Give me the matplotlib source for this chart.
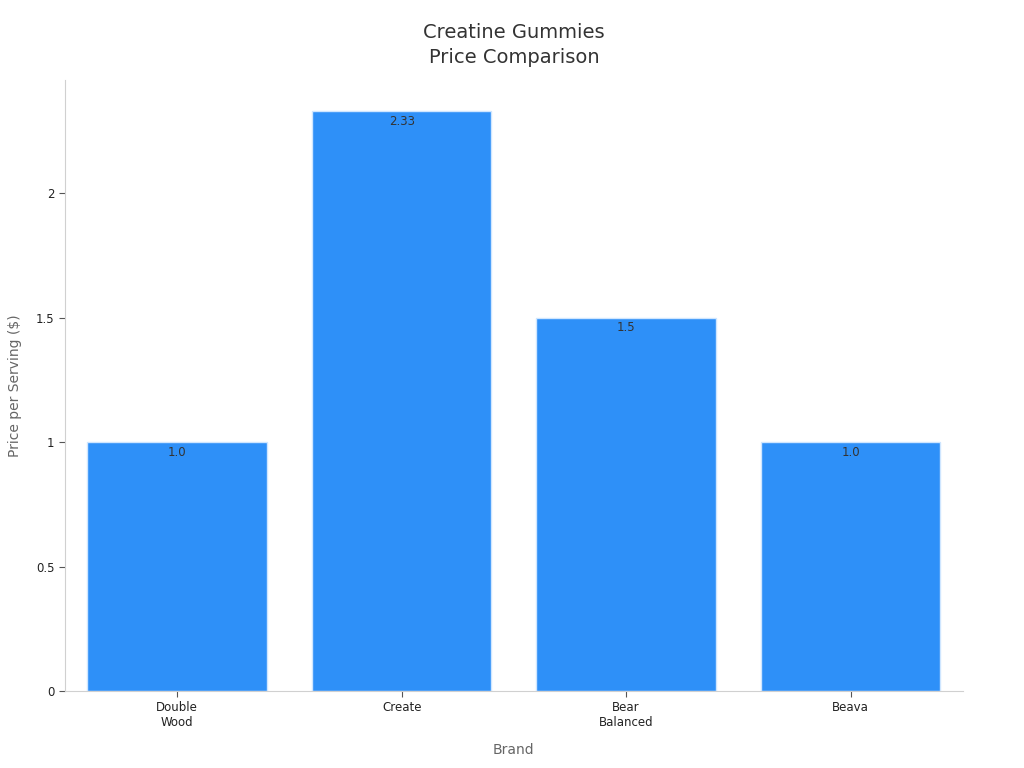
import matplotlib
matplotlib.use('Agg')
import matplotlib.pyplot as plt

# chart data
brands = ['Double\nWood', 'Create', 'Bear\nBalanced', 'Beava']
prices = [1.0, 2.33, 1.5, 1.0]
value_labels = ['1.0', '2.33', '1.5', '1.0']

fig = plt.figure(figsize=(10.24, 7.68), dpi=100)
ax = fig.add_axes([0.0635, 0.1003, 0.8767, 0.7955])

bars = ax.bar(range(len(brands)), prices, width=0.8, color='#2E90F8',
              edgecolor='#CFE6FF', linewidth=1.0)

for b, lab in zip(bars, value_labels):
    ax.text(b.get_x() + b.get_width() / 2, b.get_height() - 0.015, lab,
            ha='center', va='top', fontsize=8.5, color='#333333')

ax.set_xlim(-0.5, 3.5)
ax.set_ylim(0, 2.455)
ax.set_xticks(range(len(brands)))
ax.set_xticklabels(brands, fontsize=8.5, color='#222222')
ax.set_yticks([0, 0.5, 1, 1.5, 2])
ax.set_yticklabels(['0', '0.5', '1', '1.5', '2'], fontsize=8.5, color='#222222')
ax.tick_params(axis='both', color='#555555', length=4)

for s in ['top', 'right']:
    ax.spines[s].set_visible(False)
for s in ['left', 'bottom']:
    ax.spines[s].set_color('#D0D0D0')

ax.set_xlabel('Brand', fontsize=10, color='#666666', labelpad=10)
ax.set_ylabel('Price per Serving ($)', fontsize=10, color='#666666', labelpad=10)
ax.set_title('Creatine Gummies\nPrice Comparison', fontsize=14, color='#333333',
             pad=12, linespacing=1.45)

fig.savefig('out.png', dpi=100)
